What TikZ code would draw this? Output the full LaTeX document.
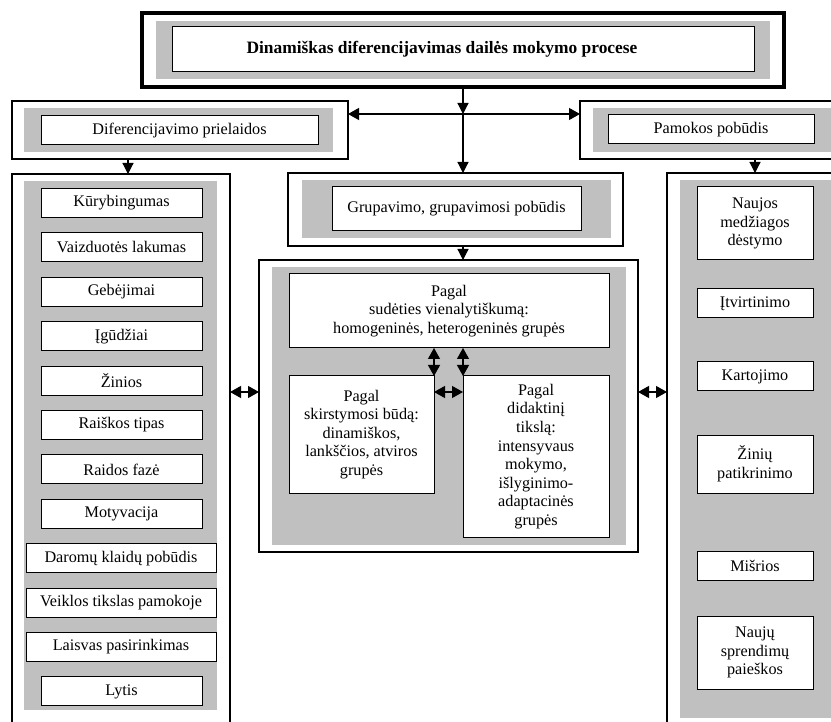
\documentclass[tikz,border=0pt]{standalone}
\usepackage{fontspec}
\setmainfont{Liberation Serif}
\usetikzlibrary{arrows.meta,calc}
\definecolor{boxgray}{HTML}{C0C0C0}
\newcommand{\bx}[7]{\node[#2, minimum width={(#5)-(#3)}, minimum height={(#6)-(#4)}] (#1) at ({((#3)+(#5))/2},{-((#4)+(#6))/2}) {#7};}
\tikzset{
  base/.style={inner sep=0pt, outer sep=0pt, rectangle},
  outerT/.style={base, draw, line width=3.5pt},
  outerH/.style={base, draw, line width=2.6pt},
  outerN/.style={base, draw, line width=1.3pt},
  grayb/.style={base, fill=boxgray},
  wbox/.style={base, draw, fill=white, line width=1pt, align=center, font=\fontsize{16.2pt}{18.6pt}\selectfont},
  titlefont/.style={font=\fontsize{17.4pt}{20pt}\selectfont\bfseries},
  arr/.style={line width=1.2pt, -{Triangle[length=11pt,width=11pt]}},
  dbl/.style={line width=1.2pt, {Triangle[length=11pt,width=12pt]}-{Triangle[length=11pt,width=12pt]}},
}
\begin{document}
\begin{tikzpicture}[x=1pt,y=1pt]
\useasboundingbox (0,0) rectangle (831,-722);
\clip (0,0) rectangle (831,-722);
% title
\bx{titleO}{outerT}{142}{13}{784}{87}{}
\bx{titleG}{grayb}{156}{21}{770}{79}{}
\bx{title}{wbox,titlefont}{172}{27}{754}{72}{Dinamiškas diferencijavimas dailės mokymo procese\hspace*{42pt}}
% left header
\bx{lhdr}{outerH}{12}{101}{348}{159}{}
\bx{lhdrG}{grayb}{24}{108}{333}{152}{}
\bx{lhdrW}{wbox}{41}{116}{318}{145}{Diferencijavimo prielaidos}
% right header
\bx{rhdr}{outerH}{580}{101}{845}{159}{}
\bx{rhdrG}{grayb}{593}{108}{832}{152}{}
\bx{rhdrW}{wbox}{608}{115}{814}{144}{Pamokos pobūdis}
% grouping header
\bx{grp}{outerH}{288}{173}{623}{246}{}
\bx{grpG}{grayb}{302}{180}{611}{238}{}
\bx{grpW}{wbox}{332}{187}{581}{231}{Grupavimo, grupavimosi pobūdis}
% center box
\bx{cbox}{outerN}{259}{260}{638}{552}{}
\bx{cboxG}{grayb}{272}{267}{626}{545}{}
\bx{ctop}{wbox}{289}{274}{609}{348}{Pagal\\sudėties vienalytiškumą:\\homogeninės, heterogeninės grupės}
\bx{ll}{wbox}{289}{376}{434}{493}{Pagal\\skirstymosi būdą:\\dinamiškos,\\lankščios, atviros\\grupės}
\bx{lr}{wbox}{463}{376}{609}{537}{Pagal\\didaktinį\\tikslą:\\intensyvaus\\mokymo,\\išlyginimo-\\adaptacinės\\grupės}
% left column
\bx{lcol}{outerN}{12}{174}{230}{760}{}
\bx{lcolG}{grayb}{24}{181}{217}{710}{}
\foreach \t/\w [count=\i from 0] in {Kūrybingumas/0, Vaizduotės lakumas/0, Gebėjimai/0, Įgūdžiai/0, Žinios/0, Raiškos tipas/0, Raidos fazė/0, Motyvacija/0, Daromų klaidų pobūdis/1, Veiklos tikslas pamokoje/1, Laisvas pasirinkimas/1, Lytis/0}{
  \pgfmathsetmacro\c{203+44.4*\i}
  \pgfmathsetmacro\xa{\w==1 ? 26 : 41}
  \pgfmathsetmacro\xb{\w==1 ? 216 : 202}
  \bx{l\i}{wbox}{\xa}{\c-14.5}{\xb}{\c+14.5}{\t}
}
% right column
\bx{rcol}{outerN}{667}{173}{843}{760}{}
\bx{rcolG}{grayb}{680}{180}{832}{718}{}
\bx{r1}{wbox}{697}{187}{813}{260}{Naujos\\medžiagos\\dėstymo}
\bx{r2}{wbox}{697}{289}{813}{318}{Įtvirtinimo}
\bx{r3}{wbox}{697}{362}{813}{391}{Kartojimo}
\bx{r4}{wbox}{697}{435}{813}{493}{Žinių\\patikrinimo}
\bx{r5}{wbox}{697}{551}{813}{580}{Mišrios}
\bx{r6}{wbox}{697}{616}{813}{689}{Naujų\\sprendimų\\paieškos}
% connectors
\coordinate (J) at (463,-114);
\coordinate (ym) at (0,-392);
\coordinate (la) at (128,0);
\draw[arr] (titleO.south) -- (J);
\draw[dbl] (lhdr.east |- J) -- (rhdr.west |- J);
\draw[arr] (J) -- (J |- grp.north);
\draw[arr] (grp.south -| J) -- (J |- cbox.north);
\draw[arr] (lhdr.south -| la) -- (lcol.north -| la);
\draw[arr] (rhdr.south -| rcol.north) -- (rcol.north);
\draw[dbl] (lcol.east |- ym) -- (cbox.west |- ym);
\draw[dbl] (cbox.east |- ym) -- (rcol.west |- ym);
\draw[dbl] (ll.east |- ym) -- (lr.west |- ym);
\draw[dbl] (ctop.south -| ll.north east) -- (ll.north east);
\draw[dbl] (ctop.south -| lr.north west) -- (lr.north west);
\end{tikzpicture}
\end{document}
